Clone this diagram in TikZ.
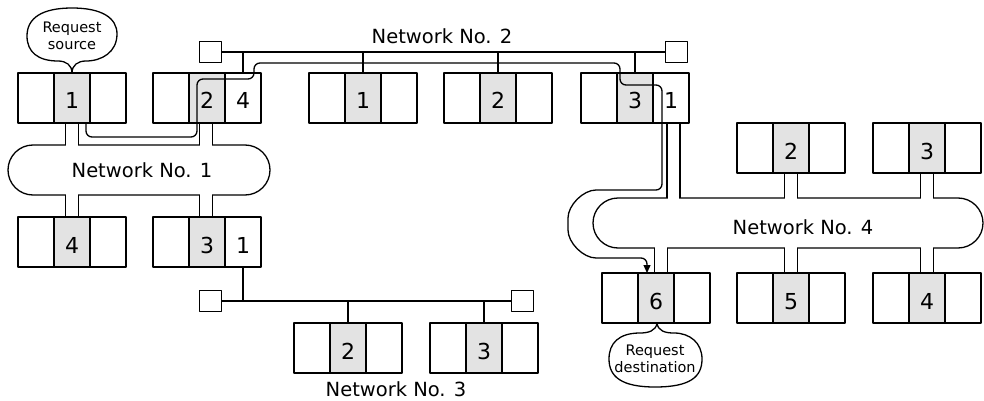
\documentclass[tikz,border=0pt]{standalone}
\usepackage{fontspec}
\setmainfont{DejaVu Sans}
\usetikzlibrary{shapes.misc,arrows.meta,calc}
\newcommand\netpipe[3]{%
  \coordinate (pa) at ($(#1)+(#3-6.5,0)$);
  \coordinate (pb) at ($(#1)+(#3+6.5,0)$);
  \fill[white] ($(pa |- #2)+(0.75,-1.7)$) rectangle ($(pb |- #2)+(-0.75,1.7)$);
  \draw (pa) -- (pa |- #2);
  \draw (pb) -- (pb |- #2);
}
\begin{document}
\begin{tikzpicture}[x=1pt,y=-1pt,line width=1.3pt,line join=round,
  cell/.style={draw,rectangle,minimum width=36pt,minimum height=50pt,inner sep=0pt,outer sep=0pt,
    text height=22pt,text depth=0pt,font=\fontsize{22}{26}\selectfont},
  shadedcell/.style={cell,fill=gray!22},
  term/.style={draw,rectangle,minimum width=22pt,minimum height=21pt,inner sep=0pt,outer sep=0pt},
  netcloud/.style={draw,rounded rectangle,minimum height=50pt,inner sep=0pt,outer sep=0pt},
  netlabel/.style={font=\fontsize{19.5}{23}\selectfont,inner sep=0pt},
  balloontext/.style={font=\fontsize{14.5}{16.5}\selectfont,align=center,inner sep=0pt},
  route/.style={rounded corners=6pt},
  pics/station/.style 2 args={code={
    \node[cell,anchor=north west] (-l) at (0,0) {};
    \node[shadedcell,anchor=north west] (-m) at (36,0) {#1};
    \node[cell,anchor=north west] (-r) at (72,0) {#2};
  }}]
\useasboundingbox (0,0) rectangle (984,401);

% stations
\pic (A1) at (18,73) {station={1}{}};
\pic (A2) at (153,73) {station={2}{4}};
\pic (A4) at (18,217) {station={4}{}};
\pic (A3) at (153,217) {station={3}{1}};
\pic (B1) at (309,73) {station={1}{}};
\pic (B2) at (444,73) {station={2}{}};
\pic (B3) at (581,73) {station={3}{1}};
\pic (C2) at (294,323) {station={2}{}};
\pic (C3) at (430,323) {station={3}{}};
\pic (D2) at (737,123) {station={2}{}};
\pic (D3) at (873,123) {station={3}{}};
\pic (D6) at (602,273) {station={6}{}};
\pic (D5) at (737,273) {station={5}{}};
\pic (D4) at (873,273) {station={4}{}};

% network 2 bus
\node[term] (T2L) at (210.5,52) {};
\node[term] (T2R) at (676.5,52) {};
\draw (T2L.east) -- (T2R.west);
\draw (A2-r.north) -- (A2-r.north |- T2L.east);
\draw (B1-m.north) -- (B1-m.north |- T2L.east);
\draw (B2-m.north) -- (B2-m.north |- T2L.east);
\draw (B3-m.north) -- (B3-m.north |- T2L.east);
\node[netlabel] (L2) at (442,36) {Network No. 2};

% network 3 bus
\node[term] (T3L) at (210.5,301) {};
\node[term] (T3R) at (522.5,301) {};
\draw (T3L.east) -- (T3R.west);
\draw (A3-r.south) -- (A3-r.south |- T3L.east);
\draw (C2-m.north) -- (C2-m.north |- T3L.east);
\draw (C3-m.north) -- (C3-m.north |- T3L.east);
\node[netlabel] (L3) at (396,389) {Network No. 3};

% network 1 ring
\node[netcloud,minimum width=262pt] (N1) at (139,170) {};
\netpipe{A1-m.south}{N1.north}{0}
\netpipe{A2-m.south}{N1.north}{-1}
\netpipe{A4-m.north}{N1.south}{0}
\netpipe{A3-m.north}{N1.south}{-1}
\node[netlabel] (L1) at (142,170) {Network No. 1};

% network 4 ring
\node[netcloud,minimum width=390pt] (N4) at (788,223) {};
\netpipe{B3-r.south}{N4.north}{2.5}
\netpipe{D2-m.south}{N4.north}{0}
\netpipe{D3-m.south}{N4.north}{0}
\netpipe{D6-m.north}{N4.south}{5}
\netpipe{D5-m.north}{N4.south}{0}
\netpipe{D4-m.north}{N4.south}{0}
\node[netlabel] (L4) at (803,227) {Network No. 4};

% route from source to destination
\draw[route,-{Triangle[length=8pt,width=7pt]}]
  ($(A1-m.south)+(14,0)$) -- (86,137) -- (197,137) -- (197,79) -- (254,79) -- (254,63)
  -- (620,63) -- (620,85) -- (662,85) -- (662,190) -- (602,190)
  .. controls (583.2,190) and (568,205.2) .. (568,224)
  .. controls (568,242.8) and (583.2,258) .. (602,258)
  -- (647,258) -- ($(D6-m.north)+(-9,0)$);

% request source balloon
\node[balloontext] (SRC) at (72,36) {Request\\source};
\draw (A1-m.north) .. controls (72,65) and (66,61) .. (58,61)
  .. controls (38,61) and (27,52) .. (27,36)
  .. controls (27,18) and (42,8) .. (72,8)
  .. controls (102,8) and (117,18) .. (117,34)
  .. controls (117,52) and (102,61) .. (86,61)
  .. controls (78,61) and (72,65) .. (A1-m.north);

% request destination balloon
\node[balloontext] (DST) at (655,359) {Request\\destination};
\draw ($(D6-m.south)+(1,0)$) .. controls (656,331) and (648,333) .. (640,333)
  .. controls (619,333) and (609,343) .. (609,359)
  .. controls (609,377) and (622,387) .. (655,387)
  .. controls (690,387) and (702,377) .. (702,359)
  .. controls (702,343) and (690,333) .. (674,333)
  .. controls (665,333) and (658,331) .. ($(D6-m.south)+(1,0)$);
\end{tikzpicture}
\end{document}
